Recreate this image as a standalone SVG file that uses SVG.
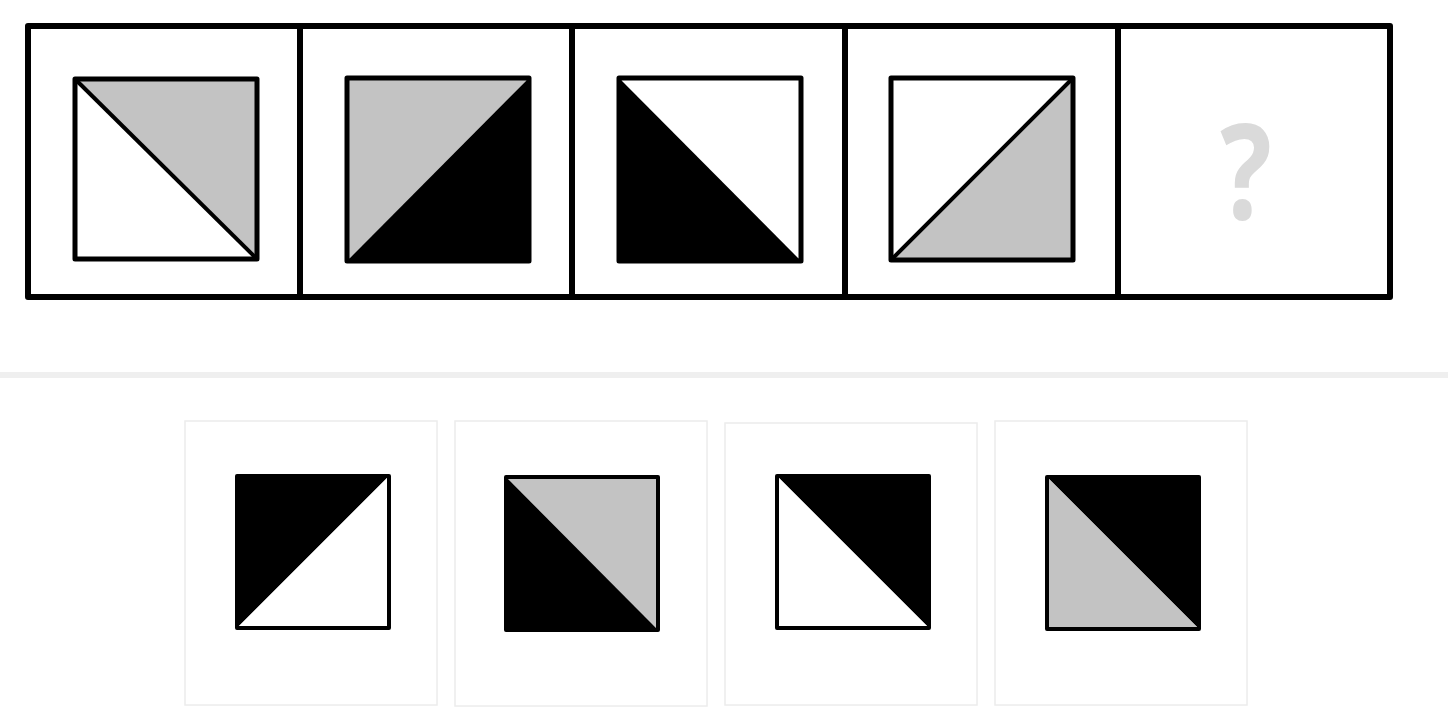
<svg xmlns="http://www.w3.org/2000/svg" width="1448" height="720" viewBox="0 0 1448 720">
<style>
.frame{fill:none;stroke:#000;stroke-width:6;stroke-linejoin:round}
.sq{fill:none;stroke:#000;stroke-width:5;stroke-linejoin:round}
.osq{fill:none;stroke:#000;stroke-width:4;stroke-linejoin:round}
.diag{stroke:#000;stroke-width:4}
.g{fill:#c3c3c3}
.b{fill:#000}
.w{fill:#fff}
.obox{fill:#fff;stroke:#ececec;stroke-width:1.5}
.q{font-family:"Open Sans","Noto Sans",sans-serif;font-weight:bold;font-size:132px;fill:#dadada;text-anchor:middle}
</style>
<rect width="1448" height="720" fill="#fff"/>
<g id="sequence-frame">
<rect class="frame" x="28" y="26" width="1362" height="271"/>
<line class="frame" x1="300" y1="26" x2="300" y2="297"/>
<line class="frame" x1="572" y1="26" x2="572" y2="297"/>
<line class="frame" x1="845" y1="26" x2="845" y2="297"/>
<line class="frame" x1="1118" y1="26" x2="1118" y2="297"/>
</g>
<g id="cell1">
<rect class="w" x="75" y="79" width="182" height="180"/>
<polygon class="g" points="75,79 257,79 257,259"/>
<line class="diag" x1="75" y1="79" x2="257" y2="259"/>
<rect class="sq" x="75" y="79" width="182" height="180"/>
</g>
<g id="cell2">
<polygon class="g" points="347,78 529,78 347,261"/>
<polygon class="b" points="529,78 529,261 347,261"/>
<rect class="sq" x="347" y="78" width="182" height="183"/>
</g>
<g id="cell3">
<polygon class="w" points="619,78 801,78 801,261"/>
<polygon class="b" points="619,78 801,261 619,261"/>
<rect class="sq" x="619" y="78" width="182" height="183"/>
</g>
<g id="cell4">
<rect class="w" x="891" y="78" width="182" height="182"/>
<polygon class="g" points="1073,78 1073,260 891,260"/>
<line class="diag" x1="891" y1="260" x2="1073" y2="78"/>
<rect class="sq" x="891" y="78" width="182" height="182"/>
</g>
<g id="cell5">
<text class="q" transform="translate(1246,219) scale(0.82,1)" x="0" y="0">?</text>
</g>
<rect id="separator" x="0" y="372" width="1448" height="6" fill="#efefef"/>
<g id="option1">
<rect class="obox" x="185" y="421" width="252" height="284"/>
<polygon class="b" points="237,476 389,476 237,628"/>
<polygon class="w" points="389,476 389,628 237,628"/>
<rect class="osq" x="237" y="476" width="152" height="152"/>
</g>
<g id="option2">
<rect class="obox" x="455" y="421" width="252" height="285"/>
<polygon class="g" points="506,477 658,477 658,630"/>
<polygon class="b" points="506,477 658,630 506,630"/>
<rect class="osq" x="506" y="477" width="152" height="153"/>
</g>
<g id="option3">
<rect class="obox" x="725" y="423" width="252" height="282"/>
<polygon class="b" points="777,476 929,476 929,628"/>
<polygon class="w" points="777,476 929,628 777,628"/>
<rect class="osq" x="777" y="476" width="152" height="152"/>
</g>
<g id="option4">
<rect class="obox" x="995" y="421" width="252" height="284"/>
<polygon class="b" points="1047,477 1199,477 1199,629"/>
<polygon class="g" points="1047,477 1199,629 1047,629"/>
<rect class="osq" x="1047" y="477" width="152" height="152"/>
</g>
</svg>
